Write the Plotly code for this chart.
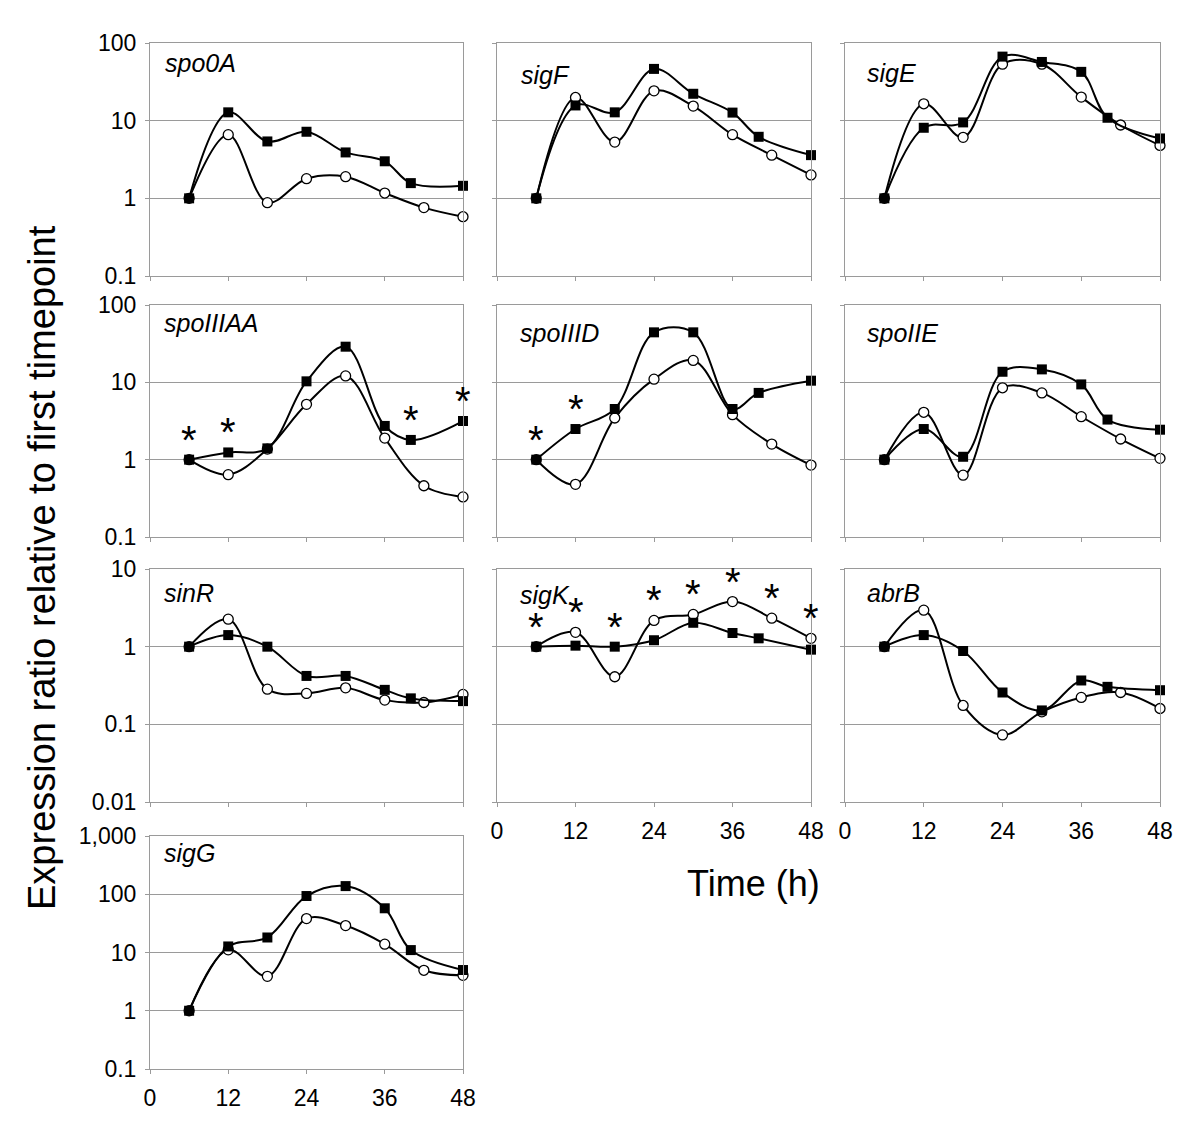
import math
import plotly.graph_objects as go

# ---------------- data ----------------
times_sq = [6, 12, 18, 24, 30, 36, 40, 48]
times_ci = [6, 12, 18, 24, 30, 36, 42, 48]

genes = ["spo0A", "sigF", "sigE", "spoIIIAA", "spoIIID", "spoIIE", "sinR", "sigK", "abrB", "sigG"]

spo0A_sq = [1, 12.8, 5.4, 7.2, 3.9, 3.0, 1.57, 1.45]
spo0A_ci = [1, 6.6, 0.88, 1.79, 1.9, 1.17, 0.76, 0.58]
sigF_sq = [1, 15.7, 12.8, 46.4, 22.2, 12.7, 6.2, 3.6]
sigF_ci = [1, 19.9, 5.3, 24.2, 15.4, 6.6, 3.6, 2.0]
sigE_sq = [1, 8.1, 9.5, 66.8, 57.0, 42.5, 10.9, 5.9]
sigE_ci = [1, 16.5, 6.1, 53.3, 53.3, 20.1, 8.8, 4.8]
spoIIIAA_sq = [1, 1.24, 1.40, 10.3, 28.9, 2.73, 1.80, 3.16]
spoIIIAA_ci = [1, 0.64, 1.37, 5.2, 12.1, 1.9, 0.46, 0.33]
spoIIID_sq = [1, 2.49, 4.52, 44.3, 44.3, 4.52, 7.3, 10.5]
spoIIID_ci = [1, 0.48, 3.46, 11.0, 19.2, 3.82, 1.59, 0.85]
spoIIE_sq = [1, 2.49, 1.09, 13.7, 14.7, 9.4, 3.3, 2.44]
spoIIE_ci = [1, 4.1, 0.63, 8.5, 7.3, 3.6, 1.85, 1.04]
sinR_sq = [1, 1.41, 1.0, 0.42, 0.42, 0.278, 0.216, 0.199]
sinR_ci = [1, 2.26, 0.284, 0.25, 0.295, 0.205, 0.191, 0.243]
sigK_sq = [1, 1.03, 1.0, 1.21, 2.03, 1.5, 1.28, 0.915]
sigK_ci = [1, 1.53, 0.41, 2.18, 2.6, 3.81, 2.33, 1.28]
abrB_sq = [1, 1.41, 0.88, 0.257, 0.151, 0.367, 0.304, 0.275]
abrB_ci = [1, 2.95, 0.175, 0.073, 0.145, 0.222, 0.257, 0.16]
sigG_sq = [1, 12.7, 18.1, 93.2, 138, 57.4, 11.0, 5.0]
sigG_ci = [1, 11.1, 3.9, 38.2, 29.0, 13.9, 4.95, 4.06]

series_sq = [spo0A_sq, sigF_sq, sigE_sq, spoIIIAA_sq, spoIIID_sq, spoIIE_sq, sinR_sq, sigK_sq, abrB_sq, sigG_sq]
series_ci = [spo0A_ci, sigF_ci, sigE_ci, spoIIIAA_ci, spoIIID_ci, spoIIE_ci, sinR_ci, sigK_ci, abrB_ci, sigG_ci]

# significance asterisks (time points)
stars = {"spoIIIAA": [6, 12, 40, 48], "spoIIID": [6, 12], "sigK": [6, 12, 18, 24, 30, 36, 42, 48]}

x_ticks = [0, 12, 24, 36, 48]
y_ticks_std = [0.1, 1, 10, 100]
y_text_std = ["0.1", "1", "10", "100"]
y_ticks_row3 = [0.01, 0.1, 1, 10]
y_text_row3 = ["0.01", "0.1", "1", "10"]
y_ticks_sigG = [0.1, 1, 10, 100, 1000]
y_text_sigG = ["0.1", "1", "10", "100", "1,000"]

# ---------------- layout geometry (screen pixels) ----------------
W, H = 1200, 1134
OFF = 8  # page body margin offset
col_px = [(150, 463), (497, 811), (845, 1160)]
row_px = [(43, 276), (305, 537), (569, 802), (836, 1069)]
pos = [(0, 0), (0, 1), (0, 2), (1, 0), (1, 1), (1, 2), (2, 0), (2, 1), (2, 2), (3, 0)]
label_off = [(13, 20), (22, 32), (20, 30), (12, 18), (21, 28), (20, 28), (12, 24), (21, 26), (20, 24), (12, 17)]


def px_x(v):
    return (v - OFF) / W


def px_y(v):
    return 1 - (v - OFF) / H


FONT = "Liberation Sans, Arial, Helvetica, sans-serif"
GRID = "#9a9a9a"

fig = go.Figure()
layout = {}
annotations = []

for i, g in enumerate(genes):
    r, c = pos[i]
    x0, x1 = col_px[c]
    y0, y1 = row_px[r]
    n = "" if i == 0 else str(i + 1)
    xa, ya = "x" + n, "y" + n

    if r == 2:
        yt, ytt, yr = y_ticks_row3, y_text_row3, [-2, 1]
    elif r == 3:
        yt, ytt, yr = y_ticks_sigG, y_text_sigG, [-1, 3]
    else:
        yt, ytt, yr = y_ticks_std, y_text_std, [-1, 2]

    show_x = (r == 2 and c > 0) or (r == 3)
    show_y = c == 0

    layout["xaxis" + n] = dict(
        domain=[px_x(x0), px_x(x1)], anchor=ya, range=[0, 48], tickvals=x_ticks,
        showticklabels=show_x, ticks="outside", ticklen=4, tickcolor=GRID,
        showline=True, linecolor=GRID, linewidth=1, mirror=True, showgrid=False,
        zeroline=False, automargin=False, ticklabelstandoff=4,
        tickfont=dict(size=23, color="black", family=FONT),
    )
    layout["yaxis" + n] = dict(
        domain=[px_y(y1), px_y(y0)], anchor=xa, type="log", range=yr,
        tickvals=yt, ticktext=ytt, showticklabels=show_y, ticks="outside", ticklen=4,
        tickcolor=GRID, showline=True, linecolor=GRID, linewidth=1, mirror=True,
        showgrid=True, gridcolor=GRID, gridwidth=1, zeroline=False,
        automargin=False, ticklabelstandoff=4,
        tickfont=dict(size=23, color="black", family=FONT),
    )

    fig.add_trace(go.Scatter(
        x=times_ci, y=series_ci[i], xaxis=xa, yaxis=ya, mode="lines+markers",
        line=dict(color="black", width=2, shape="spline", smoothing=1.0),
        marker=dict(symbol="circle", size=10, color="white", line=dict(color="black", width=1.3)),
        showlegend=False, cliponaxis=False,
    ))
    fig.add_trace(go.Scatter(
        x=times_sq, y=series_sq[i], xaxis=xa, yaxis=ya, mode="lines+markers",
        line=dict(color="black", width=2, shape="spline", smoothing=1.0),
        marker=dict(symbol="square", size=10, color="black", line=dict(color="black", width=0)),
        showlegend=False, cliponaxis=False,
    ))

    lx, ly = label_off[i]
    annotations.append(dict(
        text=g, xref="paper", yref="paper", x=px_x(x0 + lx), y=px_y(y0 + ly),
        xanchor="left", yanchor="middle", showarrow=False,
        font=dict(size=25, color="black", family=FONT, style="italic"),
    ))

    if g in stars:
        for t in stars[g]:
            vals = []
            if t in times_sq:
                vals.append(series_sq[i][times_sq.index(t)])
            if t in times_ci:
                vals.append(series_ci[i][times_ci.index(t)])
            annotations.append(dict(
                text="*", xref=xa, yref=ya, x=t, y=math.log10(max(vals)),
                xanchor="center", yanchor="middle", yshift=20, showarrow=False,
                font=dict(size=40, color="black", family=FONT),
            ))

annotations.append(dict(
    text="Time (h)", xref="paper", yref="paper", x=px_x(753), y=px_y(883),
    xanchor="center", yanchor="middle", showarrow=False,
    font=dict(size=36, color="black", family=FONT),
))
annotations.append(dict(
    text="Expression ratio relative to first timepoint", xref="paper", yref="paper",
    x=px_x(42), y=px_y(568), xanchor="center", yanchor="middle", textangle=-90,
    showarrow=False, font=dict(size=38, color="black", family=FONT),
))

fig.update_layout(
    width=W, height=H, margin=dict(l=0, r=0, t=0, b=0, autoexpand=False),
    paper_bgcolor="white", plot_bgcolor="white",
    annotations=annotations, **layout,
)

fig.write_html("out.html")
